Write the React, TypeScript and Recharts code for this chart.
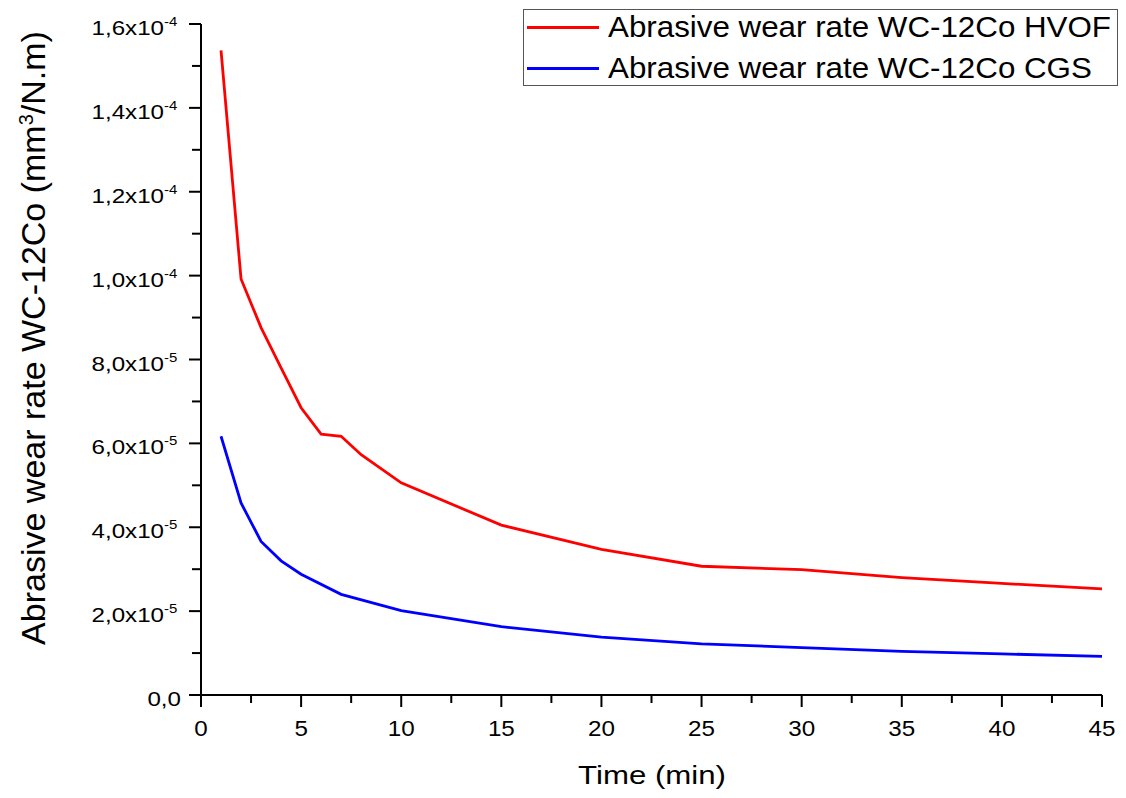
import { LineChart, Line, XAxis, YAxis } from "recharts"

const hvofTimes = [1, 2, 3, 4, 5, 6, 7, 8, 10, 15, 20, 25, 30, 35, 40, 45]
const hvofRates = [
  1.537e-4, 9.92e-5, 8.76e-5, 7.8e-5, 6.85e-5, 6.22e-5, 6.17e-5, 5.73e-5, 5.06e-5, 4.05e-5, 3.47e-5, 3.07e-5,
  2.99e-5, 2.8e-5, 2.66e-5, 2.53e-5,
]
const cgsTimes = [1, 2, 3, 4, 5, 7, 10, 15, 20, 25, 30, 35, 40, 45]
const cgsRates = [
  6.17e-5, 4.58e-5, 3.66e-5, 3.2e-5, 2.88e-5, 2.4e-5, 2.01e-5, 1.63e-5, 1.38e-5, 1.22e-5, 1.13e-5, 1.04e-5, 9.8e-6,
  9.2e-6,
]
const xTicks = [0, 2.5, 5, 7.5, 10, 12.5, 15, 17.5, 20, 22.5, 25, 27.5, 30, 32.5, 35, 37.5, 40, 42.5, 45]
const yTicks = [
  0, 1e-5, 2e-5, 3e-5, 4e-5, 5e-5, 6e-5, 7e-5, 8e-5, 9e-5, 1e-4, 1.1e-4, 1.2e-4, 1.3e-4, 1.4e-4, 1.5e-4, 1.6e-4,
]

const seriesNames = ["Abrasive wear rate WC-12Co HVOF", "Abrasive wear rate WC-12Co CGS"]
const seriesColors = ["#ff0000", "#0000ff"]

const FONT = '"Liberation Sans", Arial, sans-serif'

const hvofData = hvofTimes.map((t, i) => ({ t, v: hvofRates[i] }))
const cgsData = cgsTimes.map((t, i) => ({ t, v: cgsRates[i] }))

// the original figure is a little stretched sideways, so the text is too
function XTick({ x, y, payload }: any) {
  const v = payload.value as number
  const major = v % 5 === 0
  return (
    <g>
      <line x1={x} x2={x} y1={y} y2={y + (major ? 12 : 8)} stroke="#000" strokeWidth={2} />
      {major && (
        <text
          transform={`translate(${x}, ${y + 41}) scale(1.1, 1)`}
          textAnchor="middle"
          fontFamily={FONT}
          fontSize={22}
          fill="#000"
        >
          {v}
        </text>
      )}
    </g>
  )
}

function YTick({ x, y, payload }: any) {
  const v = payload.value as number
  const step = Math.round(v / 1e-5)
  const major = step % 2 === 0
  let main = "0,0"
  let exp = ""
  if (v > 0) {
    const e = Math.floor(Math.log10(v) + 1e-9)
    main = (v / Math.pow(10, e)).toFixed(1).replace(".", ",") + "x10"
    exp = String(e)
  }
  return (
    <g>
      <line x1={x - (major ? 12 : 9)} x2={x} y1={y} y2={y} stroke="#000" strokeWidth={2} />
      {major && (
        <>
          <text
            transform={`translate(${x - (exp ? 37 : 20)}, ${y + 11}) scale(1.15, 1)`}
            textAnchor="end"
            fontFamily={FONT}
            fontSize={21}
            fill="#000"
          >
            {main}
          </text>
          {exp && (
            <text
              transform={`translate(${x - 37}, ${y + 2}) scale(1.15, 1)`}
              fontFamily={FONT}
              fontSize={13}
              fill="#000"
            >
              {exp}
            </text>
          )}
        </>
      )}
    </g>
  )
}

function ChartLegend() {
  return (
    <div
      style={{
        position: "absolute",
        left: 523,
        top: 9,
        width: 595,
        height: 77,
        boxSizing: "border-box",
        border: "1px solid #555",
        background: "#fff",
        fontFamily: FONT,
        color: "#000",
      }}
    >
      {seriesNames.map((name, i) => (
        <div key={name} style={{ position: "absolute", left: 0, top: 17 + i * 40.5 - 9, height: 18, width: 595 }}>
          <span
            style={{
              position: "absolute",
              left: 3,
              top: 8,
              width: 72,
              height: 3,
              background: seriesColors[i],
            }}
          />
          <span
            style={{
              position: "absolute",
              left: 84,
              top: -8,
              fontSize: 29,
              lineHeight: "34px",
              whiteSpace: "nowrap",
              transform: "scaleX(1.08)",
              transformOrigin: "left center",
            }}
          >
            {name}
          </span>
        </div>
      ))}
    </div>
  )
}

export default function App() {
  return (
    <div style={{ position: "absolute", left: 0, top: 0, width: 1126, height: 798, background: "#fff" }}>
      <LineChart width={1126} height={798} margin={{ top: 24, right: 24, bottom: 0, left: 0 }}>
        <XAxis
          dataKey="t"
          type="number"
          domain={[0, 45]}
          ticks={xTicks}
          interval={0}
          allowDuplicatedCategory={false}
          height={103}
          tickSize={0}
          tickMargin={0}
          tick={<XTick />}
          axisLine={{ stroke: "#000", strokeWidth: 2 }}
          tickLine={false}
        />
        <YAxis
          type="number"
          domain={[0, 1.6e-4]}
          ticks={yTicks}
          interval={0}
          width={201}
          tickSize={0}
          tickMargin={0}
          tick={<YTick />}
          axisLine={{ stroke: "#000", strokeWidth: 2 }}
          tickLine={false}
        />
        <Line
          data={hvofData}
          dataKey="v"
          name={seriesNames[0]}
          stroke={seriesColors[0]}
          strokeWidth={2.8}
          dot={false}
          isAnimationActive={false}
        />
        <Line
          data={cgsData}
          dataKey="v"
          name={seriesNames[1]}
          stroke={seriesColors[1]}
          strokeWidth={2.8}
          dot={false}
          isAnimationActive={false}
        />
        <text
          transform="translate(652, 784) scale(1.2, 1)"
          textAnchor="middle"
          fontFamily={FONT}
          fontSize={26}
          fill="#000"
        >
          Time (min)
        </text>
        <text
          transform="translate(45, 338) rotate(-90)"
          textAnchor="middle"
          fontFamily={FONT}
          fontSize={34}
          fill="#000"
        >
          Abrasive wear rate WC-12Co (mm
          <tspan dy={-12} fontSize={20}>
            3
          </tspan>
          <tspan dy={12}>/N.m)</tspan>
        </text>
      </LineChart>
      <ChartLegend />
    </div>
  )
}
